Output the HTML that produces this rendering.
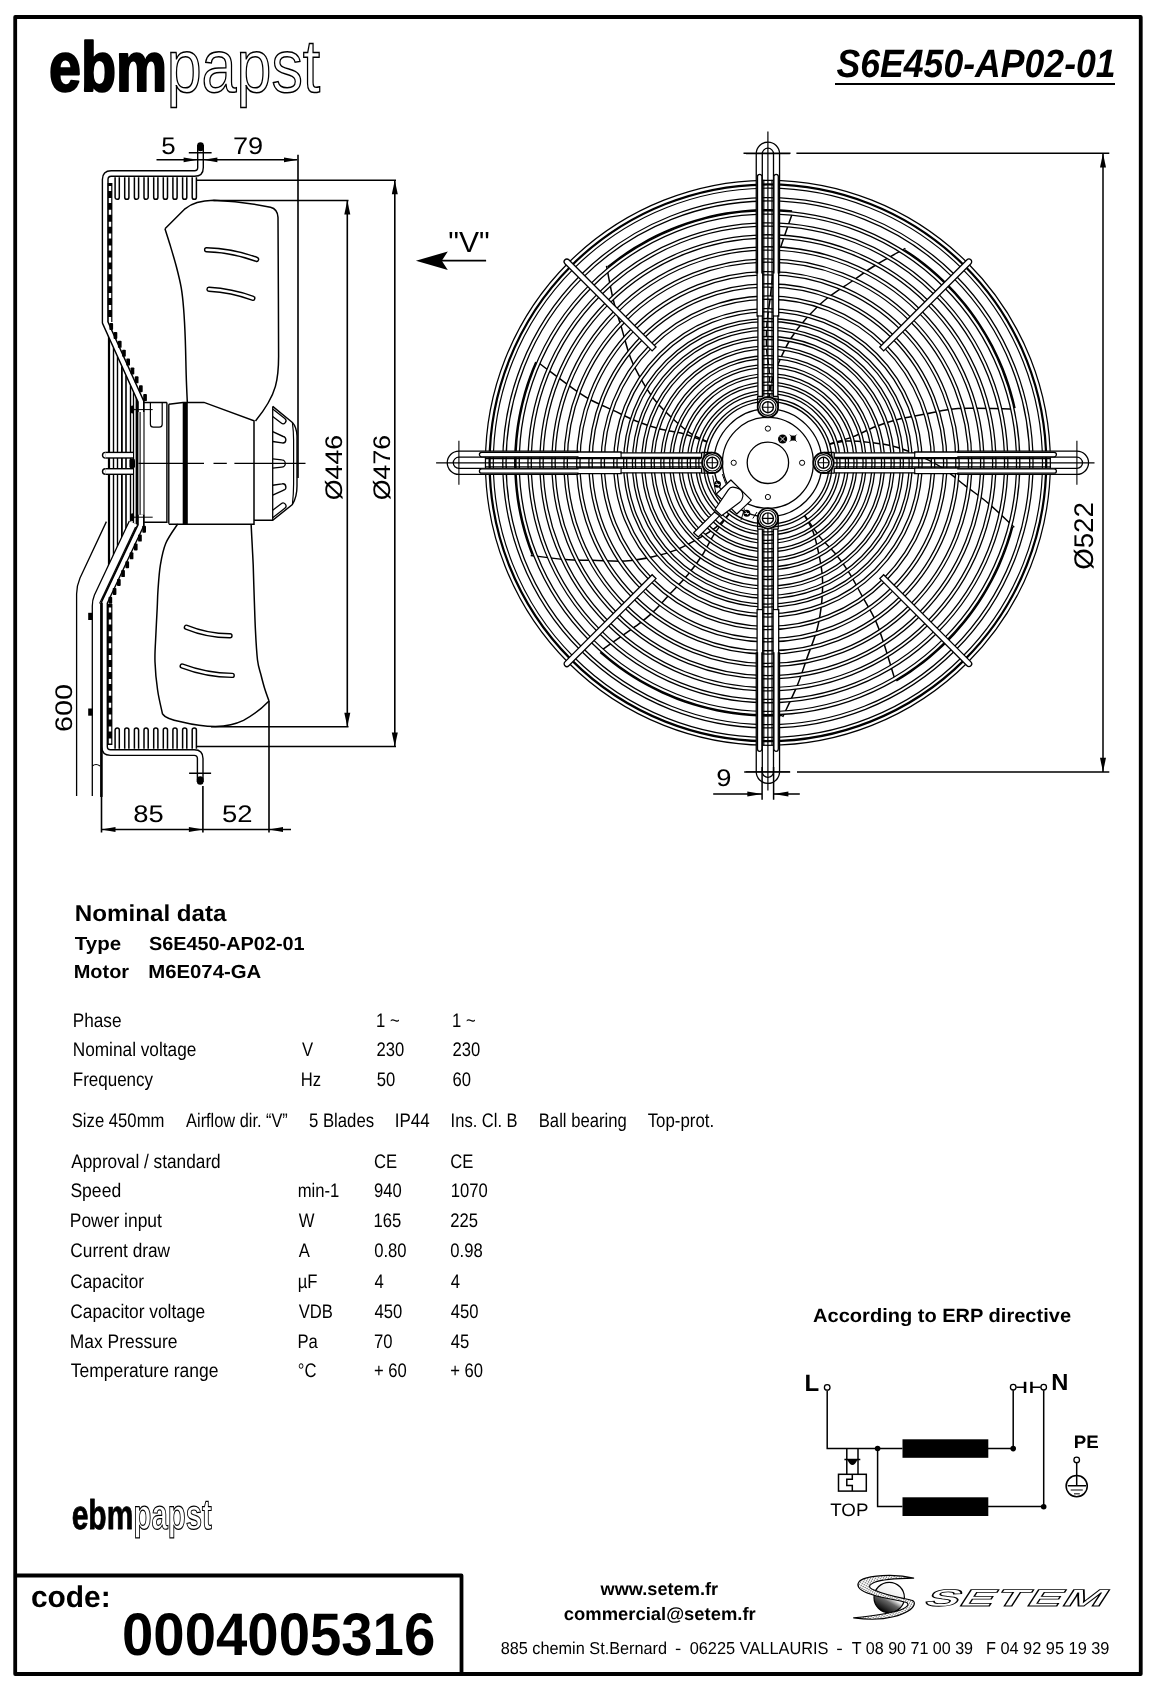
<!DOCTYPE html>
<html lang="en"><head><meta charset="utf-8"><title>S6E450-AP02-01</title>
<style>
html,body{margin:0;padding:0;background:#fff;}
body{width:1158px;height:1690px;overflow:hidden;}
svg{display:block;font-family:"Liberation Sans",Arial,Helvetica,sans-serif;text-rendering:geometricPrecision;will-change:transform;}

</style></head><body>
<svg width="1158" height="1690" viewBox="0 0 1158 1690">
<rect width="1158" height="1690" fill="#fff"/>
<g id="texts">
<rect x="15.2" y="17" width="1125.55" height="1657" fill="none" stroke="#000" stroke-width="3.8" stroke-linejoin="round"/>
<path d="M15.2 1575.5H461.5V1674" fill="none" stroke="#000" stroke-width="3.8" stroke-linejoin="round"/>
<text transform="translate(49.00 91.20) scale(0.8199 1)" font-size="70" font-weight="bold" stroke="#000" stroke-width="2.2" stroke-linejoin="round">ebm</text>
<text transform="translate(166.72 92.20) scale(0.8365 1)" font-size="75" fill="#fff" stroke="#000" stroke-width="1.5" paint-order="fill">papst</text>
<text transform="translate(836.47 77.30) scale(0.9016 1)" font-size="39.5" font-weight="bold" font-style="italic" >S6E450-AP02-01</text>
<rect x="835" y="83" width="280" height="2" fill="#000"/>
<text transform="translate(71.70 1529.20) scale(0.7223 1)" font-size="41.5" font-weight="bold" stroke="#000" stroke-width="0.8" stroke-linejoin="round">ebm</text>
<text transform="translate(133.60 1529.40) scale(0.6895 1)" font-size="42.5" font-weight="bold" fill="#fff" stroke="#000" stroke-width="1.2">papst</text>
<text transform="translate(74.83 921.40) scale(1.0505 1)" font-size="23" font-weight="bold" >Nominal data</text>
<text transform="translate(74.80 950.40) scale(1.0788 1)" font-size="19" font-weight="bold" >Type</text>
<text transform="translate(148.90 950.40) scale(1.0459 1)" font-size="19" font-weight="bold" >S6E450-AP02-01</text>
<text transform="translate(73.70 978.30) scale(1.0507 1)" font-size="19" font-weight="bold" >Motor</text>
<text transform="translate(148.18 978.30) scale(1.0709 1)" font-size="19" font-weight="bold" >M6E074-GA</text>
<text transform="translate(72.72 1026.70) scale(0.8792 1)" font-size="19.6" >Phase</text>
<text transform="translate(376.05 1026.70) scale(0.8500 1)" font-size="19.6" >1 ~</text>
<text transform="translate(452.05 1026.70) scale(0.8500 1)" font-size="19.6" >1 ~</text>
<text transform="translate(72.72 1056.30) scale(0.8799 1)" font-size="19.6" >Nominal voltage</text>
<text transform="translate(301.92 1056.30) scale(0.8500 1)" font-size="19.6" >V</text>
<text transform="translate(376.47 1056.30) scale(0.8500 1)" font-size="19.6" >230</text>
<text transform="translate(452.47 1056.30) scale(0.8500 1)" font-size="19.6" >230</text>
<text transform="translate(72.74 1085.70) scale(0.8677 1)" font-size="19.6" >Frequency</text>
<text transform="translate(300.67 1085.70) scale(0.8500 1)" font-size="19.6" >Hz</text>
<text transform="translate(376.63 1085.70) scale(0.8500 1)" font-size="19.6" >50</text>
<text transform="translate(452.47 1085.70) scale(0.8500 1)" font-size="19.6" >60</text>
<text transform="translate(71.75 1126.60) scale(0.8510 1)" font-size="19.6" >Size 450mm</text>
<text transform="translate(186.10 1126.60) scale(0.8340 1)" font-size="19.6" >Airflow dir. “V”</text>
<text transform="translate(308.93 1126.60) scale(0.8546 1)" font-size="19.6" >5 Blades</text>
<text transform="translate(394.67 1126.60) scale(0.8675 1)" font-size="19.6" >IP44</text>
<text transform="translate(450.61 1126.60) scale(0.8432 1)" font-size="19.6" >Ins. Cl. B</text>
<text transform="translate(538.77 1126.60) scale(0.8495 1)" font-size="19.6" >Ball bearing</text>
<text transform="translate(647.66 1126.60) scale(0.8594 1)" font-size="19.6" >Top-prot.</text>
<text transform="translate(71.20 1167.70) scale(0.8799 1)" font-size="19.6" >Approval / standard</text>
<text transform="translate(373.97 1167.70) scale(0.8500 1)" font-size="19.6" >CE</text>
<text transform="translate(450.17 1167.70) scale(0.8500 1)" font-size="19.6" >CE</text>
<text transform="translate(70.41 1197.20) scale(0.8956 1)" font-size="19.6" >Speed</text>
<text transform="translate(297.72 1197.20) scale(0.8500 1)" font-size="19.6" >min-1</text>
<text transform="translate(374.05 1197.20) scale(0.8500 1)" font-size="19.6" >940</text>
<text transform="translate(450.75 1197.20) scale(0.8500 1)" font-size="19.6" >1070</text>
<text transform="translate(69.80 1227.30) scale(0.8898 1)" font-size="19.6" >Power input</text>
<text transform="translate(298.72 1227.30) scale(0.8500 1)" font-size="19.6" >W</text>
<text transform="translate(373.55 1227.30) scale(0.8500 1)" font-size="19.6" >165</text>
<text transform="translate(450.17 1227.30) scale(0.8500 1)" font-size="19.6" >225</text>
<text transform="translate(70.34 1257.20) scale(0.8807 1)" font-size="19.6" >Current draw</text>
<text transform="translate(298.80 1257.20) scale(0.8500 1)" font-size="19.6" >A</text>
<text transform="translate(374.13 1257.20) scale(0.8500 1)" font-size="19.6" >0.80</text>
<text transform="translate(450.33 1257.20) scale(0.8500 1)" font-size="19.6" >0.98</text>
<text transform="translate(70.34 1287.60) scale(0.8774 1)" font-size="19.6" >Capacitor</text>
<text transform="translate(297.63 1287.60) scale(0.8500 1)" font-size="19.6" >µF</text>
<text transform="translate(374.47 1287.60) scale(0.8500 1)" font-size="19.6" >4</text>
<text transform="translate(450.67 1287.60) scale(0.8500 1)" font-size="19.6" >4</text>
<text transform="translate(70.33 1317.70) scale(0.8843 1)" font-size="19.6" >Capacitor voltage</text>
<text transform="translate(298.72 1317.70) scale(0.8500 1)" font-size="19.6" >VDB</text>
<text transform="translate(374.47 1317.70) scale(0.8500 1)" font-size="19.6" >450</text>
<text transform="translate(450.67 1317.70) scale(0.8500 1)" font-size="19.6" >450</text>
<text transform="translate(69.80 1347.50) scale(0.8904 1)" font-size="19.6" >Max Pressure</text>
<text transform="translate(297.47 1347.50) scale(0.8500 1)" font-size="19.6" >Pa</text>
<text transform="translate(373.97 1347.50) scale(0.8500 1)" font-size="19.6" >70</text>
<text transform="translate(450.67 1347.50) scale(0.8500 1)" font-size="19.6" >45</text>
<text transform="translate(70.85 1377.30) scale(0.8914 1)" font-size="19.6" >Temperature range</text>
<text transform="translate(297.80 1377.30) scale(0.8500 1)" font-size="19.6" >°C</text>
<text transform="translate(373.97 1377.30) scale(0.8500 1)" font-size="19.6" >+ 60</text>
<text transform="translate(450.17 1377.30) scale(0.8500 1)" font-size="19.6" >+ 60</text>
<text transform="translate(30.90 1606.60) scale(0.9974 1)" font-size="30" font-weight="bold" >code:</text>
<text transform="translate(122.05 1654.90) scale(0.9386 1)" font-size="60" font-weight="bold" >0004005316</text>
<text transform="translate(600.49 1595.00) scale(1.0104 1)" font-size="18" font-weight="bold" >www.setem.fr</text>
<text transform="translate(563.86 1620.00) scale(1.0222 1)" font-size="18" font-weight="bold" >commercial@setem.fr</text>
<text transform="translate(500.67 1653.70) scale(0.9412 1)" font-size="17.3" >885 chemin St.Bernard</text>
<text transform="translate(674.96 1653.70) scale(1.0853 1)" font-size="17.3" >-</text>
<text transform="translate(689.64 1653.70) scale(0.9469 1)" font-size="17.3" >06225 VALLAURIS</text>
<text transform="translate(836.32 1653.70) scale(1.1325 1)" font-size="17.3" >-</text>
<text transform="translate(851.78 1653.70) scale(0.9303 1)" font-size="17.3" >T 08 90 71 00 39</text>
<text transform="translate(985.89 1653.70) scale(0.9454 1)" font-size="17.3" >F 04 92 95 19 39</text>
</g>
<g id="circuit">
<text transform="translate(813.10 1322.00) scale(1.0391 1)" font-size="19.3" font-weight="bold" >According to ERP directive</text>
<text transform="translate(804.43 1390.50) scale(1.0159 1)" font-size="23.7" font-weight="bold" >L</text>
<text transform="translate(1051.26 1389.80) scale(1.0228 1)" font-size="23.2" font-weight="bold" >N</text>
<text transform="translate(1073.68 1448.00) scale(1.0388 1)" font-size="18" font-weight="bold" >PE</text>
<text transform="translate(830.23 1515.80) scale(1.0404 1)" font-size="18" >TOP</text>
<g fill="none" stroke="#000" stroke-width="1.5">
<path d="M827.2 1390.5V1448.5H902.5"/>
<path d="M988 1448.5H1013.2V1390.3"/>
<path d="M1016.3 1387.2H1025M1031.4 1387.2H1040.6"/>
<path d="M1043.7 1390.3V1506.6H988"/>
<path d="M877.6 1448.5V1506.6H902.5"/>
<path d="M846.8 1448.5V1474.3M858 1448.5V1474.3M844.4 1459.5H860.3"/>
<rect x="838.5" y="1474.3" width="27.8" height="16.8"/>
<path d="M852.3 1474.3V1479.2H846.8V1485.4H852.3V1491.1"/>
<path d="M1076.7 1462.9V1485.7M1067.7 1485.7H1086.2"/>
<circle cx="1076.7" cy="1486.1" r="10.6"/>
<path d="M1070.7 1490H1082.8M1074 1493.8H1079.8" stroke="#555"/>
</g>
<path d="M847.5 1460H857.3Q855 1465 852.4 1465Q849.8 1465 847.5 1460Z" fill="#000"/>
<circle cx="827.2" cy="1387.4" r="2.8" fill="#fff" stroke="#000" stroke-width="1.3"/>
<circle cx="1013.2" cy="1387.2" r="2.8" fill="#fff" stroke="#000" stroke-width="1.3"/>
<circle cx="1043.7" cy="1387.2" r="2.8" fill="#fff" stroke="#000" stroke-width="1.3"/>
<circle cx="1076.7" cy="1459.9" r="2.8" fill="#fff" stroke="#000" stroke-width="1.3"/>
<circle cx="877.6" cy="1448.5" r="2.8" fill="#000"/>
<circle cx="1013.2" cy="1448.6" r="2.8" fill="#000"/>
<circle cx="1043.7" cy="1506.7" r="2.8" fill="#000"/>
<rect x="1023.8" y="1381.8" width="2.5" height="11.2" fill="#000"/>
<rect x="1030.2" y="1381.8" width="2.5" height="11.2" fill="#000"/>
<rect x="902.5" y="1439.3" width="85.8" height="18.5" fill="#000"/>
<rect x="902.5" y="1497.3" width="85.8" height="18.7" fill="#000"/>
</g>
<g id="front">
<g fill="none" stroke="#000" stroke-width="1.5">
<path d="M606.5 265.8C607.6 271.5 610.9 289.9 613.3 300.0C615.7 310.1 618.2 316.8 621.1 326.4C624.0 336.0 626.8 348.2 630.4 357.5C634.0 366.8 638.5 374.9 642.9 382.4C647.3 389.9 651.6 396.4 656.8 402.6C662.0 408.8 668.2 414.5 673.9 419.7C679.6 424.9 685.3 430.0 691.0 433.7C696.7 437.4 705.2 440.6 708.0 442.0"/>
<path d="M539.6 363.5C545.0 367.5 563.3 381.6 571.7 387.6C580.1 393.6 583.1 395.7 590.0 399.5C596.9 403.3 605.5 406.8 613.3 410.4C621.1 414.0 628.8 418.1 636.6 421.2C644.4 424.3 652.2 426.9 660.0 429.0C667.8 431.1 675.3 431.5 683.3 433.7C691.3 435.9 704.0 440.8 708.1 442.2"/>
<path d="M905.4 248.4C900.3 251.3 883.8 260.0 875.0 265.5C866.1 270.9 860.5 275.4 852.3 281.0C844.0 286.7 833.3 293.2 825.6 299.5C817.8 305.8 811.5 312.6 805.7 319.1C799.9 325.6 795.1 331.7 790.8 338.5C786.5 345.4 783.0 353.1 779.8 360.1C776.7 367.1 773.6 374.1 771.8 380.7C770.0 387.2 769.6 396.3 769.2 399.4"/>
<path d="M791.8 215.0C789.6 221.3 781.9 243.1 778.8 253.0C775.7 262.8 774.6 266.3 773.1 274.0C771.7 281.8 771.0 291.1 770.0 299.6C768.9 308.1 767.4 316.7 766.9 325.1C766.3 333.4 766.3 341.7 766.7 349.7C767.1 357.8 769.0 365.0 769.4 373.3C769.8 381.7 769.1 395.2 769.0 399.6"/>
<path d="M1014.3 527.3C1010.0 523.4 996.6 510.4 988.7 503.6C980.8 496.9 974.8 492.9 966.8 486.9C958.9 480.8 949.5 472.6 941.0 467.2C932.6 461.8 924.3 457.9 916.3 454.4C908.3 450.9 901.0 448.2 893.2 446.2C885.3 444.2 876.9 443.3 869.3 442.4C861.6 441.6 854.0 440.8 847.2 441.1C840.4 441.5 831.7 443.9 828.6 444.4"/>
<path d="M1011.0 408.9C1004.3 408.8 981.2 408.2 970.8 408.3C960.5 408.4 956.9 408.4 949.0 409.4C941.2 410.4 932.2 412.7 923.8 414.3C915.4 416.0 906.7 417.2 898.6 419.3C890.5 421.3 882.6 423.8 875.1 426.7C867.5 429.6 861.2 433.7 853.4 436.6C845.7 439.5 832.6 443.0 828.4 444.3"/>
<path d="M782.7 717.0C785.1 711.8 793.3 695.0 797.3 685.4C801.3 675.8 803.2 668.9 806.5 659.4C809.8 650.0 814.7 638.5 817.2 628.8C819.8 619.1 820.9 610.0 821.8 601.3C822.6 592.7 822.9 584.9 822.4 576.8C821.9 568.7 820.2 560.5 818.6 552.9C817.0 545.4 815.4 537.9 813.0 531.5C810.6 525.2 805.6 517.6 804.1 514.8"/>
<path d="M894.2 677.3C892.3 670.9 885.7 648.8 882.4 639.0C879.2 629.2 878.0 625.7 874.6 618.6C871.2 611.4 866.3 603.6 862.2 596.1C858.0 588.6 854.1 580.7 849.7 573.6C845.2 566.5 840.4 559.8 835.3 553.6C830.3 547.3 824.4 542.6 819.2 536.1C814.0 529.6 806.7 518.2 804.2 514.6"/>
<path d="M530.7 555.4C536.4 556.1 554.9 558.7 565.3 559.5C575.7 560.3 582.8 560.0 592.8 560.3C602.8 560.5 615.3 561.6 625.3 561.0C635.3 560.5 644.3 558.7 652.8 556.8C661.3 555.0 668.8 552.9 676.3 549.9C683.8 546.9 691.2 542.7 697.9 538.9C704.6 535.1 711.2 531.2 716.5 526.9C721.8 522.7 727.4 515.6 729.6 513.3"/>
<path d="M602.9 649.2C608.4 645.4 627.4 632.3 635.8 626.2C644.1 620.0 647.0 617.9 652.7 612.4C658.5 607.0 664.5 599.9 670.3 593.6C676.1 587.4 682.4 581.3 687.8 574.8C693.1 568.4 698.0 561.7 702.4 555.0C706.8 548.2 709.5 541.2 714.1 534.3C718.7 527.3 727.2 516.8 729.8 513.3"/>
<path d="M792.1 211.1L783.9 210.4L775.7 210.0L767.5 209.9L759.2 210.0L751.0 210.5L742.8 211.2L734.6 212.1L726.4 213.3L718.3 214.8L710.3 216.5L702.3 218.6L694.4 220.8L686.5 223.3L678.8 226.1L671.1 229.2L663.6 232.4L656.1 235.9L648.8 239.7L641.6 243.7L634.5 247.9L627.6 252.4L620.8 257.1L614.2 262.0L607.7 267.1" stroke-width="1.9"/>
<path d="M536.0 362.0L532.8 369.6L529.9 377.3L527.2 385.1L524.8 392.9L522.7 400.9L520.8 408.9L519.2 417.0L517.8 425.1L516.7 433.3L515.9 441.5L515.3 449.7L515.0 457.9L515.0 466.2L515.3 474.4L515.8 482.6L516.6 490.8L517.6 499.0L518.9 507.2L520.5 515.2L522.3 523.3L524.4 531.2L526.8 539.1L529.4 546.9L532.3 554.7" stroke-width="1.9"/>
<path d="M600.3 652.2L606.6 657.6L613.0 662.7L619.6 667.7L626.4 672.4L633.3 676.9L640.3 681.2L647.5 685.2L654.8 689.0L662.2 692.6L669.8 695.9L677.4 699.0L685.1 701.8L693.0 704.3L700.9 706.7L708.9 708.7L716.9 710.5L725.0 712.0L733.1 713.3L741.3 714.3L749.5 715.0L757.8 715.5L766.0 715.7L774.2 715.6L782.5 715.3" stroke-width="1.9"/>
<path d="M896.3 680.7L903.3 676.4L910.2 671.9L916.9 667.1L923.5 662.2L929.9 657.0L936.1 651.6L942.2 646.0L948.1 640.3L953.8 634.3L959.2 628.2L964.5 621.8L969.6 615.4L974.5 608.7L979.1 601.9L983.5 594.9L987.7 587.8L991.7 580.6L995.4 573.3L998.9 565.8L1002.1 558.2L1005.1 550.5L1007.8 542.8L1010.3 534.9L1012.5 527.0" stroke-width="1.9"/>
<path d="M1014.8 408.1L1012.9 400.0L1010.7 392.1L1008.3 384.2L1005.6 376.4L1002.7 368.7L999.5 361.1L996.0 353.7L992.4 346.3L988.4 339.0L984.3 331.9L979.9 324.9L975.3 318.1L970.5 311.4L965.5 304.9L960.2 298.6L954.8 292.4L949.1 286.4L943.3 280.6L937.2 275.0L931.0 269.5L924.6 264.3L918.1 259.3L911.4 254.5L904.5 250.0" stroke-width="1.9"/>
</g>
<g fill="none">
<circle cx="767.9" cy="462.8" r="62.8" stroke="#000" stroke-width="4.30"/>
<circle cx="767.9" cy="462.8" r="62.8" stroke="#fff" stroke-width="1.70"/>
<circle cx="767.9" cy="462.8" r="70.6" stroke="#000" stroke-width="4.30"/>
<circle cx="767.9" cy="462.8" r="70.6" stroke="#fff" stroke-width="1.70"/>
<circle cx="767.9" cy="462.8" r="79.1" stroke="#000" stroke-width="4.30"/>
<circle cx="767.9" cy="462.8" r="79.1" stroke="#fff" stroke-width="1.70"/>
<circle cx="767.9" cy="462.8" r="87.6" stroke="#000" stroke-width="4.30"/>
<circle cx="767.9" cy="462.8" r="87.6" stroke="#fff" stroke-width="1.70"/>
<circle cx="767.9" cy="462.8" r="96.7" stroke="#000" stroke-width="4.30"/>
<circle cx="767.9" cy="462.8" r="96.7" stroke="#fff" stroke-width="1.70"/>
<circle cx="767.9" cy="462.8" r="105.6" stroke="#000" stroke-width="4.30"/>
<circle cx="767.9" cy="462.8" r="105.6" stroke="#fff" stroke-width="1.70"/>
<circle cx="767.9" cy="462.8" r="115.2" stroke="#000" stroke-width="4.30"/>
<circle cx="767.9" cy="462.8" r="115.2" stroke="#fff" stroke-width="1.70"/>
<circle cx="767.9" cy="462.8" r="124.8" stroke="#000" stroke-width="4.30"/>
<circle cx="767.9" cy="462.8" r="124.8" stroke="#fff" stroke-width="1.70"/>
<circle cx="767.9" cy="462.8" r="134.0" stroke="#000" stroke-width="4.30"/>
<circle cx="767.9" cy="462.8" r="134.0" stroke="#fff" stroke-width="1.70"/>
<circle cx="767.9" cy="462.8" r="142.8" stroke="#000" stroke-width="4.30"/>
<circle cx="767.9" cy="462.8" r="142.8" stroke="#fff" stroke-width="1.70"/>
<circle cx="767.9" cy="462.8" r="152.6" stroke="#000" stroke-width="4.60"/>
<circle cx="767.9" cy="462.8" r="152.6" stroke="#fff" stroke-width="2.00"/>
<circle cx="767.9" cy="462.8" r="165.2" stroke="#000" stroke-width="4.60"/>
<circle cx="767.9" cy="462.8" r="165.2" stroke="#fff" stroke-width="2.00"/>
<circle cx="767.9" cy="462.8" r="177.4" stroke="#000" stroke-width="4.60"/>
<circle cx="767.9" cy="462.8" r="177.4" stroke="#fff" stroke-width="2.00"/>
<circle cx="767.9" cy="462.8" r="189.6" stroke="#000" stroke-width="4.60"/>
<circle cx="767.9" cy="462.8" r="189.6" stroke="#fff" stroke-width="2.00"/>
<circle cx="767.9" cy="462.8" r="202.3" stroke="#000" stroke-width="4.60"/>
<circle cx="767.9" cy="462.8" r="202.3" stroke="#fff" stroke-width="2.00"/>
<circle cx="767.9" cy="462.8" r="214.4" stroke="#000" stroke-width="4.60"/>
<circle cx="767.9" cy="462.8" r="214.4" stroke="#fff" stroke-width="2.00"/>
<circle cx="767.9" cy="462.8" r="226.4" stroke="#000" stroke-width="4.60"/>
<circle cx="767.9" cy="462.8" r="226.4" stroke="#fff" stroke-width="2.00"/>
<circle cx="767.9" cy="462.8" r="238.3" stroke="#000" stroke-width="4.60"/>
<circle cx="767.9" cy="462.8" r="238.3" stroke="#fff" stroke-width="2.00"/>
<circle cx="767.9" cy="462.8" r="250.3" stroke="#000" stroke-width="4.60"/>
<circle cx="767.9" cy="462.8" r="250.3" stroke="#fff" stroke-width="2.00"/>
<circle cx="767.9" cy="462.8" r="263.5" stroke="#000" stroke-width="4.60"/>
<circle cx="767.9" cy="462.8" r="263.5" stroke="#fff" stroke-width="2.00"/>
<circle cx="767.9" cy="462.8" r="278.55" stroke="#000" stroke-width="9.1"/>
<circle cx="767.9" cy="462.8" r="276.2" stroke="#fff" stroke-width="2.0"/>
<circle cx="767.9" cy="462.8" r="280.65" stroke="#fff" stroke-width="2.4"/>
</g>
<circle cx="767.9" cy="462.8" r="54" fill="#fff" stroke="#000" stroke-width="1.3"/>
<circle cx="767.9" cy="462.8" r="45.5" fill="#fff" stroke="#000" stroke-width="1.3"/>
<circle cx="767.9" cy="462.8" r="20.7" fill="#fff" stroke="#000" stroke-width="1.3"/>
<circle cx="802.1" cy="462.8" r="2.6" fill="#fff" stroke="#000" stroke-width="1"/>
<circle cx="767.9" cy="497.0" r="2.6" fill="#fff" stroke="#000" stroke-width="1"/>
<circle cx="733.7" cy="462.8" r="2.6" fill="#fff" stroke="#000" stroke-width="1"/>
<circle cx="767.9" cy="428.6" r="2.6" fill="#fff" stroke="#000" stroke-width="1"/>
<g transform="translate(767.9 462.8) rotate(45)"><path d="M161 -2.75H284.3A2.75 2.75 0 0 1 284.3 2.75H161Z" fill="#fff" stroke="#000" stroke-width="1.3"/></g>
<g transform="translate(767.9 462.8) rotate(135)"><path d="M161 -2.75H284.3A2.75 2.75 0 0 1 284.3 2.75H161Z" fill="#fff" stroke="#000" stroke-width="1.3"/></g>
<g transform="translate(767.9 462.8) rotate(225)"><path d="M161 -2.75H284.3A2.75 2.75 0 0 1 284.3 2.75H161Z" fill="#fff" stroke="#000" stroke-width="1.3"/></g>
<g transform="translate(767.9 462.8) rotate(315)"><path d="M161 -2.75H284.3A2.75 2.75 0 0 1 284.3 2.75H161Z" fill="#fff" stroke="#000" stroke-width="1.3"/></g>
<g transform="translate(767.9 462.8) rotate(0)"><path d="M190.0 -11.65H309.0A11.65 11.65 0 0 1 309.0 11.65H190.0V5.6H309.0A5.6 5.6 0 0 0 309.0 -5.6H190.0Z" fill="#fff" stroke="#000" stroke-width="1.3"/>
<path d="M66.3 -10.0H146.8V-10.8H190.0V-10.4H286.3A2.2 2.2 0 0 1 286.3 -6.0H190.0V-5.2H146.8V-5.5H66.3Z" fill="#fff" stroke="#000" stroke-width="1.3"/>
<path d="M146.8 -10.0V-5.5" fill="none" stroke="#000" stroke-width="1.1"/>
<path d="M66.3 10.0H146.8V10.8H190.0V10.4H286.3A2.2 2.2 0 0 0 286.3 6.0H190.0V5.2H146.8V5.5H66.3Z" fill="#fff" stroke="#000" stroke-width="1.3"/>
<path d="M146.8 10.0V5.5" fill="none" stroke="#000" stroke-width="1.1"/>
<path d="M66.3 -4.1H283M66.3 4.1H283" fill="none" stroke="#000" stroke-width="1.2"/>
<path d="M64.3 0H326.6" fill="none" stroke="#000" stroke-width="1.2"/>
<path d="M56 -10.3H66.3M56 10.3H66.3" fill="none" stroke="#000" stroke-width="1.3"/>
<path d="M309.0 -22V22" fill="none" stroke="#000" stroke-width="1.1"/></g>
<g transform="translate(767.9 462.8) rotate(90)"><path d="M190.0 -11.65H309.0A11.65 11.65 0 0 1 309.0 11.65H190.0V5.6H309.0A5.6 5.6 0 0 0 309.0 -5.6H190.0Z" fill="#fff" stroke="#000" stroke-width="1.3"/>
<path d="M66.3 -10.0H146.8V-10.8H190.0V-10.4H286.3A2.2 2.2 0 0 1 286.3 -6.0H190.0V-5.2H146.8V-5.5H66.3Z" fill="#fff" stroke="#000" stroke-width="1.3"/>
<path d="M146.8 -10.0V-5.5" fill="none" stroke="#000" stroke-width="1.1"/>
<path d="M66.3 10.0H146.8V10.8H190.0V10.4H286.3A2.2 2.2 0 0 0 286.3 6.0H190.0V5.2H146.8V5.5H66.3Z" fill="#fff" stroke="#000" stroke-width="1.3"/>
<path d="M146.8 10.0V5.5" fill="none" stroke="#000" stroke-width="1.1"/>
<path d="M66.3 -4.1H283M66.3 4.1H283" fill="none" stroke="#000" stroke-width="1.2"/>
<path d="M64.3 0H327.7" fill="none" stroke="#000" stroke-width="1.2"/>
<path d="M56 -10.3H66.3M56 10.3H66.3" fill="none" stroke="#000" stroke-width="1.3"/>
<path d="M309.0 -22V22" fill="none" stroke="#000" stroke-width="1.1"/></g>
<g transform="translate(767.9 462.8) rotate(180)"><path d="M190.0 -11.65H309.0A11.65 11.65 0 0 1 309.0 11.65H190.0V5.6H309.0A5.6 5.6 0 0 0 309.0 -5.6H190.0Z" fill="#fff" stroke="#000" stroke-width="1.3"/>
<path d="M66.3 -10.0H146.8V-10.8H190.0V-10.4H286.3A2.2 2.2 0 0 1 286.3 -6.0H190.0V-5.2H146.8V-5.5H66.3Z" fill="#fff" stroke="#000" stroke-width="1.3"/>
<path d="M146.8 -10.0V-5.5" fill="none" stroke="#000" stroke-width="1.1"/>
<path d="M66.3 10.0H146.8V10.8H190.0V10.4H286.3A2.2 2.2 0 0 0 286.3 6.0H190.0V5.2H146.8V5.5H66.3Z" fill="#fff" stroke="#000" stroke-width="1.3"/>
<path d="M146.8 10.0V5.5" fill="none" stroke="#000" stroke-width="1.1"/>
<path d="M66.3 -4.1H283M66.3 4.1H283" fill="none" stroke="#000" stroke-width="1.2"/>
<path d="M64.3 0H331.8" fill="none" stroke="#000" stroke-width="1.2"/>
<path d="M56 -10.3H66.3M56 10.3H66.3" fill="none" stroke="#000" stroke-width="1.3"/>
<path d="M309.0 -22V22" fill="none" stroke="#000" stroke-width="1.1"/></g>
<g transform="translate(767.9 462.8) rotate(270)"><path d="M190.0 -11.65H309.0A11.65 11.65 0 0 1 309.0 11.65H190.0V5.6H309.0A5.6 5.6 0 0 0 309.0 -5.6H190.0Z" fill="#fff" stroke="#000" stroke-width="1.3"/>
<path d="M66.3 -10.0H146.8V-10.8H190.0V-10.4H286.3A2.2 2.2 0 0 1 286.3 -6.0H190.0V-5.2H146.8V-5.5H66.3Z" fill="#fff" stroke="#000" stroke-width="1.3"/>
<path d="M146.8 -10.0V-5.5" fill="none" stroke="#000" stroke-width="1.1"/>
<path d="M66.3 10.0H146.8V10.8H190.0V10.4H286.3A2.2 2.2 0 0 0 286.3 6.0H190.0V5.2H146.8V5.5H66.3Z" fill="#fff" stroke="#000" stroke-width="1.3"/>
<path d="M146.8 10.0V5.5" fill="none" stroke="#000" stroke-width="1.1"/>
<path d="M66.3 -4.1H283M66.3 4.1H283" fill="none" stroke="#000" stroke-width="1.2"/>
<path d="M64.3 0H331.3" fill="none" stroke="#000" stroke-width="1.2"/>
<path d="M56 -10.3H66.3M56 10.3H66.3" fill="none" stroke="#000" stroke-width="1.3"/>
<path d="M309.0 -22V22" fill="none" stroke="#000" stroke-width="1.1"/></g>
<circle cx="823.5" cy="462.8" r="10.2" fill="#fff" stroke="#000" stroke-width="1.8"/>
<circle cx="823.5" cy="462.8" r="8.2" fill="none" stroke="#000" stroke-width="1.1"/>
<circle cx="823.5" cy="462.8" r="5.5" fill="none" stroke="#000" stroke-width="1.4"/>
<path d="M818.0 462.8H829.0M823.5 457.3V468.3" stroke="#000" stroke-width="1.1"/>
<circle cx="767.9" cy="518.4" r="10.2" fill="#fff" stroke="#000" stroke-width="1.8"/>
<circle cx="767.9" cy="518.4" r="8.2" fill="none" stroke="#000" stroke-width="1.1"/>
<circle cx="767.9" cy="518.4" r="5.5" fill="none" stroke="#000" stroke-width="1.4"/>
<path d="M762.4 518.4H773.4M767.9 512.9V523.9" stroke="#000" stroke-width="1.1"/>
<circle cx="712.3" cy="462.8" r="10.2" fill="#fff" stroke="#000" stroke-width="1.8"/>
<circle cx="712.3" cy="462.8" r="8.2" fill="none" stroke="#000" stroke-width="1.1"/>
<circle cx="712.3" cy="462.8" r="5.5" fill="none" stroke="#000" stroke-width="1.4"/>
<path d="M706.8 462.8H717.8M712.3 457.3V468.3" stroke="#000" stroke-width="1.1"/>
<circle cx="767.9" cy="407.2" r="10.2" fill="#fff" stroke="#000" stroke-width="1.8"/>
<circle cx="767.9" cy="407.2" r="8.2" fill="none" stroke="#000" stroke-width="1.1"/>
<circle cx="767.9" cy="407.2" r="5.5" fill="none" stroke="#000" stroke-width="1.4"/>
<path d="M762.4 407.2H773.4M767.9 401.7V412.7" stroke="#000" stroke-width="1.1"/>
<circle cx="782.6" cy="439" r="4.6" fill="#000"/>
<path d="M780 436.5L785 441.5M780.3 441.2Q783 439 784.8 436.6" stroke="#fff" stroke-width="0.9" fill="none"/>
<path d="M789.8 434.6L796.6 441.6M796.6 434.6L789.8 441.6" stroke="#000" stroke-width="0.9"/>
<rect x="790.7" y="435.6" width="5" height="5" fill="#000"/>
<path d="M730.9 480L751.3 500.1L736.8 514L716.2 494Z" fill="#fff" stroke="#000" stroke-width="1.2" stroke-linejoin="round"/>
<path d="M714.4 512.1L693.6 532.8L698.3 537L719.5 515.8Z" fill="#fff" stroke="#000" stroke-width="1.2" stroke-linejoin="round"/>
<path d="M714.9 509.5L728.3 489.8Q730.3 487 733 487.2L736.6 487.8Q743.5 489.5 742.8 496.5Q742.3 500.5 739.7 502.3L721.6 515.8Z" fill="#fff" stroke="#000" stroke-width="1.2" stroke-linejoin="round"/>
<circle cx="717.5" cy="484.2" r="3.5" fill="#000"/>
<path d="M715.3 484.5H719.7M716.3 482.3L718.7 486.09999999999997" stroke="#fff" stroke-width="0.8"/>
<circle cx="746.8" cy="513.2" r="3.5" fill="#000"/>
<path d="M744.5999999999999 513.5H749.0M745.5999999999999 511.30000000000007L748.0 515.1" stroke="#fff" stroke-width="0.8"/>
<path d="M712.6 475.5L716 494.2M722.3 474.1L725.8 483.8M741 520L744.5 508.5M752.8 518.5L757 512" stroke="#000" stroke-width="1" fill="none"/>
<g fill="none" stroke="#000" stroke-width="1.5">
<path d="M796.4 153.2H1109.3M797 772.1H1109.3M1103 153.2V772.1"/>
<path d="M713.2 794H762.1M773.6 794H799.8M762.1 767V799.8M773.6 767V799.8"/>
<path d="M744.2 772.1H790.2M743.5 153.2H790.5"/>
</g>
<path d="M1103.00 153.20L1106.00 167.50L1100.00 167.50Z" fill="#000"/>
<path d="M1103.00 772.10L1100.00 757.80L1106.00 757.80Z" fill="#000"/>
<path d="M762.10 794.00L747.30 796.60L747.30 791.40Z" fill="#000"/>
<path d="M773.60 794.00L788.40 791.40L788.40 796.60Z" fill="#000"/>
<text transform="translate(716.37 786.40) scale(1.1380 1)" font-size="24" >9</text>
<text transform="translate(1092.7 569.87) rotate(-90) scale(1.0248 1)" font-size="27">Ø522</text>
</g>
<g id="side">
<path d="M113.5 348.0V578.8" fill="none" stroke="#000" stroke-width="1.4" />
<path d="M117.5 356.8V570.0" fill="none" stroke="#000" stroke-width="1.4" />
<path d="M121.9 366.6V560.2" fill="none" stroke="#000" stroke-width="1.8" />
<path d="M126 375.6V551.2" fill="none" stroke="#000" stroke-width="1.6" />
<path d="M130.5 385.6V541.2" fill="none" stroke="#000" stroke-width="1.4" />
<path d="M133.5 392.2V534.6" fill="none" stroke="#000" stroke-width="1.3" />
<path d="M109 330V596.8" fill="none" stroke="#000" stroke-width="2.2" />
<path d="M137 397V530" fill="none" stroke="#000" stroke-width="2.8" />
<path d="M140.1 398V529" fill="none" stroke="#000" stroke-width="1.1" />
<path d="M144 398V529" fill="none" stroke="#000" stroke-width="1.1" />
<ellipse cx="132.3" cy="409.5" rx="1.9" ry="4" fill="#000"/><ellipse cx="132.3" cy="517.3" rx="1.9" ry="4" fill="#000"/>
<path d="M106.4 521.6L80 578Q76.6 586 76.6 594V796" fill="none" stroke="#000" stroke-width="1.3" />
<path d="M133.5 523L98.6 597Q96.9 601 96.9 606V796" fill="none" stroke="#000" stroke-width="10.50" stroke-linejoin="round"/><path d="M133.5 523L98.6 597Q96.9 601 96.9 606V796" fill="none" stroke="#fff" stroke-width="7.90" stroke-linejoin="round"/>
<rect x="88.2" y="612.8" width="4.2" height="7.2" fill="#000"/>
<rect x="88.2" y="708.5" width="4.2" height="7.2" fill="#000"/>
<path d="M92.3 766Q96 763 100 766" fill="none" stroke="#000" stroke-width="1.1" />
<path d="M200.5 145V167.5Q200.5 173.5 194.5 173.5H111.2Q105.2 173.5 105.2 179.5V322.5L140.9 401.5V412" fill="none" stroke="#000" stroke-width="7.00" stroke-linejoin="round"/><path d="M200.5 145V167.5Q200.5 173.5 194.5 173.5H111.2Q105.2 173.5 105.2 179.5V322.5L140.9 401.5V412" fill="none" stroke="#fff" stroke-width="4.20" stroke-linejoin="round"/>
<path d="M200.2 782V758.6Q200.2 752.6 194.2 752.6H110.5Q104.5 752.6 104.5 746.6V602.5L140.9 525.3V514.8" fill="none" stroke="#000" stroke-width="7.00" stroke-linejoin="round"/><path d="M200.2 782V758.6Q200.2 752.6 194.2 752.6H110.5Q104.5 752.6 104.5 746.6V602.5L140.9 525.3V514.8" fill="none" stroke="#fff" stroke-width="4.20" stroke-linejoin="round"/>
<path d="M200.5 145.6V148" stroke="#000" stroke-width="6.6" stroke-linecap="round"/>
<path d="M200.2 781.4V779.5" stroke="#000" stroke-width="6.6" stroke-linecap="round"/>
<path d="M101.4 603V797" fill="none" stroke="#000" stroke-width="2.6" />
<path d="M99.6 603.5L135.6 527" fill="none" stroke="#000" stroke-width="1.2" />
<path d="M110 183V322" stroke="#000" stroke-width="4.8" fill="none"/>
<path d="M110 186V322" stroke="#fff" stroke-width="2.4" stroke-dasharray="5 6.9" fill="none"/>
<path d="M110 604V745" stroke="#000" stroke-width="4.8" fill="none"/>
<path d="M110 607.5V745" stroke="#fff" stroke-width="2.4" stroke-dasharray="5 6.9" fill="none"/>
<rect x="109.4" y="323.0" width="3.7" height="7" rx="0.9" fill="#000"/>
<rect x="108.5" y="596.8" width="3.7" height="7" rx="0.9" fill="#000"/>
<rect x="113.6" y="331.9" width="3.7" height="7" rx="0.9" fill="#000"/>
<rect x="112.7" y="587.9" width="3.7" height="7" rx="0.9" fill="#000"/>
<rect x="117.9" y="340.8" width="3.7" height="7" rx="0.9" fill="#000"/>
<rect x="117.0" y="579.0" width="3.7" height="7" rx="0.9" fill="#000"/>
<rect x="122.1" y="349.7" width="3.7" height="7" rx="0.9" fill="#000"/>
<rect x="121.2" y="570.1" width="3.7" height="7" rx="0.9" fill="#000"/>
<rect x="126.3" y="358.6" width="3.7" height="7" rx="0.9" fill="#000"/>
<rect x="125.4" y="561.2" width="3.7" height="7" rx="0.9" fill="#000"/>
<rect x="130.6" y="367.4" width="3.7" height="7" rx="0.9" fill="#000"/>
<rect x="129.7" y="552.3" width="3.7" height="7" rx="0.9" fill="#000"/>
<rect x="134.8" y="376.3" width="3.7" height="7" rx="0.9" fill="#000"/>
<rect x="133.9" y="543.5" width="3.7" height="7" rx="0.9" fill="#000"/>
<rect x="139.0" y="385.2" width="3.7" height="7" rx="0.9" fill="#000"/>
<rect x="138.1" y="534.6" width="3.7" height="7" rx="0.9" fill="#000"/>
<rect x="143.2" y="394.1" width="3.7" height="7" rx="0.9" fill="#000"/>
<rect x="142.3" y="525.7" width="3.7" height="7" rx="0.9" fill="#000"/>
<path d="M115.1 177.3V197.2A2.1 2.1 0 0 0 119.3 197.2V177.3" fill="#fff" stroke="#000" stroke-width="1.5" />
<path d="M115.1 748.8V730.1A2.1 2.1 0 0 1 119.3 730.1V748.8" fill="#fff" stroke="#000" stroke-width="1.5" />
<path d="M124.7 177.3V197.2A2.1 2.1 0 0 0 128.9 197.2V177.3" fill="#fff" stroke="#000" stroke-width="1.5" />
<path d="M124.7 748.8V730.1A2.1 2.1 0 0 1 128.9 730.1V748.8" fill="#fff" stroke="#000" stroke-width="1.5" />
<path d="M134.4 177.3V197.2A2.1 2.1 0 0 0 138.6 197.2V177.3" fill="#fff" stroke="#000" stroke-width="1.5" />
<path d="M134.4 748.8V730.1A2.1 2.1 0 0 1 138.6 730.1V748.8" fill="#fff" stroke="#000" stroke-width="1.5" />
<path d="M144.0 177.3V197.2A2.1 2.1 0 0 0 148.2 197.2V177.3" fill="#fff" stroke="#000" stroke-width="1.5" />
<path d="M144.0 748.8V730.1A2.1 2.1 0 0 1 148.2 730.1V748.8" fill="#fff" stroke="#000" stroke-width="1.5" />
<path d="M153.7 177.3V197.2A2.1 2.1 0 0 0 157.9 197.2V177.3" fill="#fff" stroke="#000" stroke-width="1.5" />
<path d="M153.7 748.8V730.1A2.1 2.1 0 0 1 157.9 730.1V748.8" fill="#fff" stroke="#000" stroke-width="1.5" />
<path d="M163.3 177.3V197.2A2.1 2.1 0 0 0 167.5 197.2V177.3" fill="#fff" stroke="#000" stroke-width="1.5" />
<path d="M163.3 748.8V730.1A2.1 2.1 0 0 1 167.5 730.1V748.8" fill="#fff" stroke="#000" stroke-width="1.5" />
<path d="M172.9 177.3V197.2A2.1 2.1 0 0 0 177.1 197.2V177.3" fill="#fff" stroke="#000" stroke-width="1.5" />
<path d="M172.9 748.8V730.1A2.1 2.1 0 0 1 177.1 730.1V748.8" fill="#fff" stroke="#000" stroke-width="1.5" />
<path d="M182.6 177.3V197.2A2.1 2.1 0 0 0 186.8 197.2V177.3" fill="#fff" stroke="#000" stroke-width="1.5" />
<path d="M182.6 748.8V730.1A2.1 2.1 0 0 1 186.8 730.1V748.8" fill="#fff" stroke="#000" stroke-width="1.5" />
<path d="M192.2 177.3V197.2A2.1 2.1 0 0 0 196.4 197.2V177.3" fill="#fff" stroke="#000" stroke-width="1.5" />
<path d="M192.2 748.8V730.1A2.1 2.1 0 0 1 196.4 730.1V748.8" fill="#fff" stroke="#000" stroke-width="1.5" />
<path d="M144 402.5H166.9M144 522.3H166.9M166.9 402.5V523M168.8 404.2V523.7" fill="none" stroke="#000" stroke-width="1.4" />
<path d="M168.8 404.3L183 402.4H204L254 420.8V524.2H168.8" fill="none" stroke="#000" stroke-width="1.5" />
<rect x="182.7" y="402" width="5.1" height="122" fill="#000"/>
<path d="M150.4 403V424.2Q150.4 427.2 153.4 427.2H159.2Q162.2 427.2 162.2 424.2V403" fill="none" stroke="#000" stroke-width="1.2" />
<path d="M130.8 409.6H152.7M130.8 517.1999999999999H152.7" fill="none" stroke="#000" stroke-width="1.0" />
<path d="M133 455.2H105.3" fill="none" stroke="#000" stroke-width="7.00" stroke-linejoin="round"/><path d="M133 455.2H105.3" fill="none" stroke="#fff" stroke-width="4.20" stroke-linejoin="round"/>
<path d="M105.3 452.4A2.8 2.8 0 0 0 105.3 458.0" fill="#fff" stroke="#000" stroke-width="1.4"/>
<path d="M133 471.5H105.3" fill="none" stroke="#000" stroke-width="7.00" stroke-linejoin="round"/><path d="M133 471.5H105.3" fill="none" stroke="#fff" stroke-width="4.20" stroke-linejoin="round"/>
<path d="M105.3 468.7A2.8 2.8 0 0 0 105.3 474.3" fill="#fff" stroke="#000" stroke-width="1.4"/>
<rect x="129.5" y="458.5" width="5.5" height="9.8" rx="2" fill="#000"/>
<path d="M272.7 406.4L292.4 422.4Q296.6 427 297 436V486Q297 497 292.4 504.5L272.7 520.3H254" fill="none" stroke="#000" stroke-width="1.4" />
<path d="M272.7 406.4V520.3" fill="none" stroke="#000" stroke-width="1.3" />
<path d="M292.4 422.4Q293.6 432 293.6 440V484Q293.6 494 292.4 504.5" fill="none" stroke="#000" stroke-width="1.2" />
<path d="M272.7 409.1L284.8 418.5A2.9 2.9 0 0 1 281.2 423.1L272.7 416.6" fill="none" stroke="#000" stroke-width="1.3" />
<path d="M272.7 431.7L283.2 436.5A3.2 3.2 0 0 1 282 442.9L272.7 441.5" fill="none" stroke="#000" stroke-width="1.4" />
<path d="M272.7 458.8L281.7 459.9A3.6 3.6 0 0 1 281.7 467.1L272.7 468.1" fill="none" stroke="#000" stroke-width="1.3" />
<path d="M272.7 495.09999999999997L283.2 490.29999999999995A3.2 3.2 0 0 0 282 483.9L272.7 485.29999999999995" fill="none" stroke="#000" stroke-width="1.4" />
<path d="M272.7 510.2L281.2 503.7A2.9 2.9 0 0 1 284.8 508.3L272.7 517.7" fill="none" stroke="#000" stroke-width="1.3" />
<path d="M165.0 228.8C165.8 231.3 167.9 237.7 169.8 244.0C171.7 250.3 174.5 259.5 176.4 266.8C178.3 274.1 180.0 280.8 181.2 287.7C182.4 294.6 182.9 299.8 183.6 308.5C184.3 317.2 184.9 328.9 185.3 340.0C185.7 351.1 185.9 364.7 186.2 375.0C186.5 385.3 187.1 397.5 187.3 402.0" fill="none" stroke="#000" stroke-width="1.5" />
<path d="M165 228.8L185 208.8Q195 200.6 213.5 200.3Q243 201.4 270.5 207.3Q277.6 209 278 217.4L278.4 300L278.6 356Q278.6 375 275.4 386.4Q271 402 255.5 421" fill="none" stroke="#000" stroke-width="1.5" />
<path d="M177.7 524.0C175.7 527.2 168.7 536.4 165.8 543.2C162.9 550.0 161.7 557.0 160.4 564.8C159.1 572.6 158.5 582.8 158.0 590.0C157.5 597.2 157.6 599.7 157.2 608.0C156.8 616.3 156.0 631.0 155.6 640.0C155.2 649.0 154.7 653.7 155.0 662.0C155.3 670.3 156.3 681.3 157.6 690.0C158.8 698.7 161.7 710.0 162.5 714.0" fill="none" stroke="#000" stroke-width="1.5" />
<path d="M162.5 714Q166 719 180.9 721.8Q200 726.6 215.4 726.6Q232 726 243.5 720.4Q258 712.5 269 701" fill="none" stroke="#000" stroke-width="1.5" />
<path d="M251.1 524.0C251.3 527.5 251.8 538.2 252.2 545.0C252.5 551.8 252.8 555.6 253.2 564.8C253.5 574.0 253.9 589.2 254.3 600.0C254.7 610.8 254.9 619.5 255.4 629.5C255.9 639.5 256.6 652.4 257.5 660.0C258.4 667.6 259.8 670.3 261.0 675.0C262.2 679.7 263.2 683.7 264.5 688.0C265.8 692.3 268.2 698.8 269.0 701.0" fill="none" stroke="#000" stroke-width="1.5" />
<path d="M206.6 249.8Q232.4 250.5 256.6 259.4" fill="none" stroke="#000" stroke-width="5.40" stroke-linecap="round"/><path d="M206.6 249.8Q232.4 250.5 256.6 259.4" fill="none" stroke="#fff" stroke-width="2.60" stroke-linecap="round"/>
<path d="M209.0 289.3Q231.6 290.5 252.8 298.3" fill="none" stroke="#000" stroke-width="5.40" stroke-linecap="round"/><path d="M209.0 289.3Q231.6 290.5 252.8 298.3" fill="none" stroke="#fff" stroke-width="2.60" stroke-linecap="round"/>
<path d="M186.4 627.2Q207.4 635.8 230.0 635.7" fill="none" stroke="#000" stroke-width="5.40" stroke-linecap="round"/><path d="M186.4 627.2Q207.4 635.8 230.0 635.7" fill="none" stroke="#fff" stroke-width="2.60" stroke-linecap="round"/>
<path d="M182.2 666.0Q206.4 675.2 232.2 675.4" fill="none" stroke="#000" stroke-width="5.40" stroke-linecap="round"/><path d="M182.2 666.0Q206.4 675.2 232.2 675.4" fill="none" stroke="#fff" stroke-width="2.60" stroke-linecap="round"/>
<path d="M138.4 463.4H204M213.5 463.4H226.8M234.4 463.4H305.5" fill="none" stroke="#000" stroke-width="1.1" />
<g fill="none" stroke="#000" stroke-width="1.6">
<path d="M156.5 159.8H297M298 154.7V478"/>
<path d="M188.8 152.8H211.6M189.1 773.3H211.1"/>
<path d="M196.4 180.2H396M213.5 200.5H348.5M196.4 746.5H396M211 726.7H348.5"/>
<path d="M347.3 200.5V726.7M394.8 180.2V746.5"/>
<path d="M101.5 829.5H291M101.5 797V832.5M202.9 786V832.5M269 701V832.5"/>
</g>
<path d="M197.60 159.80L183.60 162.20L183.60 157.40Z" fill="#000"/>
<path d="M203.40 159.80L217.40 157.40L217.40 162.20Z" fill="#000"/>
<path d="M298.00 159.80L284.00 162.20L284.00 157.40Z" fill="#000"/>
<path d="M347.30 200.50L350.30 214.50L344.30 214.50Z" fill="#000"/>
<path d="M347.30 726.70L344.30 712.70L350.30 712.70Z" fill="#000"/>
<path d="M394.80 180.20L397.80 194.20L391.80 194.20Z" fill="#000"/>
<path d="M394.80 746.50L391.80 732.50L397.80 732.50Z" fill="#000"/>
<path d="M101.50 829.50L115.50 826.90L115.50 832.10Z" fill="#000"/>
<path d="M202.90 829.50L188.90 832.10L188.90 826.90Z" fill="#000"/>
<path d="M269.00 829.50L283.00 826.90L283.00 832.10Z" fill="#000"/>
<text transform="translate(161.16 153.70) scale(1.0789 1)" font-size="24" >5</text>
<text transform="translate(233.05 153.70) scale(1.1289 1)" font-size="24" >79</text>
<text transform="translate(133.27 822.00) scale(1.1382 1)" font-size="24" >85</text>
<text transform="translate(221.90 822.00) scale(1.1438 1)" font-size="24" >52</text>
<text transform="translate(342.3 500.23) rotate(-90) scale(1.1129 1)" font-size="24">Ø446</text>
<text transform="translate(389.6 500.23) rotate(-90) scale(1.1129 1)" font-size="24">Ø476</text>
<text transform="translate(72 731.94) rotate(-90) scale(1.1999 1)" font-size="24">600</text>
<path d="M440 260.7H486.1" fill="none" stroke="#000" stroke-width="1.8" />
<path d="M415.9 260.7L447.8 251.5L441.8 260.7L447.8 269.9Z" fill="#000"/>
<text transform="translate(448.30 251.50) scale(1.0358 1)" font-size="29" >"V"</text>
</g>
<g id="setem">
<defs><linearGradient id="gl" x1="0.75" y1="0.1" x2="0.25" y2="0.95"><stop offset="0" stop-color="#fff"/><stop offset="0.45" stop-color="#eee"/><stop offset="0.62" stop-color="#666"/><stop offset="1" stop-color="#000"/></linearGradient><pattern id="st" width="2.2" height="2.2" patternUnits="userSpaceOnUse" patternTransform="rotate(30)"><rect width="2.2" height="2.2" fill="#fff"/><circle cx="0.8" cy="0.8" r="0.55" fill="#000"/></pattern></defs>
<circle cx="889.2" cy="1597.5" r="15.2" fill="url(#gl)" stroke="#000" stroke-width="1.2"/>
<path d="M913.7 1578.1C900 1574.8 880 1574.2 865.7 1578.1C859 1580 856.5 1583.5 858.6 1587.2C861 1591.5 870 1594.8 886.5 1598.2C896 1600.2 903 1601.5 905.8 1602.3C910 1603.8 907.5 1607.5 900.3 1609.9C893 1612.4 880 1614.8 853.6 1617.9C870 1620.2 885 1619 893.4 1616.8C904 1614 912.5 1609.5 914.2 1604.5C915.5 1600.5 911 1599.8 904.4 1598.6C896 1596.8 884 1594.2 874 1589.9C868.5 1587.5 867.5 1585.5 874.7 1582.3C882 1579.3 895 1578.4 913.7 1578.1Z" fill="url(#st)" stroke="#000" stroke-width="1.1" stroke-linejoin="round"/>
<text transform="translate(922.2 1606.3) skewX(-33) scale(2.144 1)" font-size="23.7" font-weight="bold" fill="#fff" stroke="#000" stroke-width="0.8" letter-spacing="0.6">SETEM</text>
</g>
</svg>
</body></html>
